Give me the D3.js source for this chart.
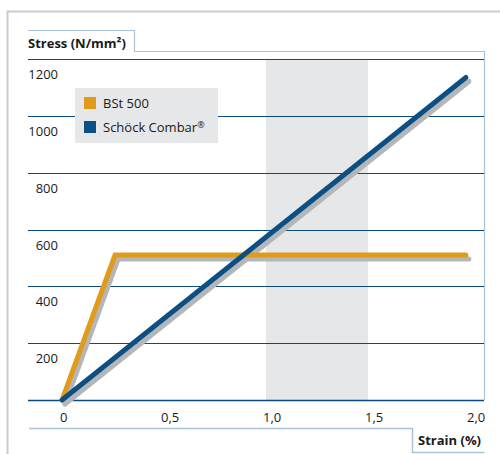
<!DOCTYPE html>
<html>
<head>
<meta charset="utf-8">
<script src="https://cdn.jsdelivr.net/npm/d3@7"></script>
<style>
  body { margin: 0; background: #fff; }
  text { font-family: "Open Sans", "Noto Sans", sans-serif; fill: #1a1a1a; }
</style>
</head>
<body>
<div id="chart"></div>
<script>
// values
var yTicks = [0, 200, 400, 600, 800, 1000, 1200];
var xTicks = [0, 0.5, 1.0, 1.5, 2.0];
var xTickLabels = ["0", "0,5", "1,0", "1,5", "2,0"];
var bandRange = [1.0, 1.5];

var seriesNames = ["BSt 500", "Schöck Combar"];
var bstStrain = [0, 0.26, 1.98];
var bstStress = [0, 510, 510];
var combarStrain = [0, 1.98];
var combarStress = [0, 1135];

var colors = ["#e09b1b", "#0c4f82"];

var W = 500, H = 454;
var margin = {top: 59, right: 16, bottom: 54, left: 28};

var svg = d3.select("#chart").append("svg")
    .attr("width", W)
    .attr("height", H);

var x = d3.scaleLinear().domain([0, 2]).range([62, 470]);
var y = d3.scaleLinear().domain([0, 1200]).range([H - margin.bottom, margin.top]);

var left = margin.left, right = W - margin.right;

// outer grey frame
svg.append("path")
    .attr("d", "M7.5," + H + "V11.5H" + W)
    .attr("fill", "none")
    .attr("stroke", "#cccccc")
    .attr("stroke-width", 2);

// shaded band
svg.append("rect")
    .attr("x", x(bandRange[0]))
    .attr("width", x(bandRange[1]) - x(bandRange[0]))
    .attr("y", y(1200))
    .attr("height", y(0) - y(1200))
    .attr("fill", "#e6e7e8");

// title tab and frame (light blue)
svg.append("path")
    .attr("d", "M" + left + ",30.5H134.5V51.5H" + (right + 0.5) + "V" + y(0))
    .attr("fill", "none")
    .attr("stroke", "#a9c3da")
    .attr("stroke-width", 1.2);

svg.append("path")
    .attr("d", "M" + (left + 1) + ",428.5H412.5V452.5H" + (right + 0.5))
    .attr("fill", "none")
    .attr("stroke", "#a9c3da")
    .attr("stroke-width", 1.5);

// gridlines
svg.selectAll("line.grid")
    .data(yTicks)
    .enter().append("line")
    .attr("class", "grid")
    .attr("x1", left)
    .attr("x2", right)
    .attr("y1", function(d) { return Math.round(y(d)) + 0.5; })
    .attr("y2", function(d) { return Math.round(y(d)) + 0.5; })
    .attr("stroke", "#0b4a80")
    .attr("stroke-width", function(d) { return d === 0 ? 1.5 : 1; });

// y labels, sitting under their gridline
svg.selectAll("text.ylab")
    .data(yTicks.slice(1))
    .enter().append("text")
    .attr("class", "ylab")
    .attr("x", 58)
    .attr("y", function(d) { return y(d) + 20; })
    .attr("text-anchor", "end")
    .style("font-size", "13px")
    .text(function(d) { return d; });

// x labels
svg.selectAll("text.xlab")
    .data(xTicks)
    .enter().append("text")
    .attr("class", "xlab")
    .attr("x", function(d, i) { return i === 0 ? x(d) - 2 : x(d) - 3; })
    .attr("y", 422)
    .style("font-size", "13px")
    .text(function(d, i) { return xTickLabels[i]; });

// axis titles
svg.append("text")
    .attr("x", 28)
    .attr("y", 48)
    .style("font-size", "13px")
    .style("font-weight", "bold")
    .text("Stress (N/mm²)");

svg.append("text")
    .attr("x", 481)
    .attr("y", 445)
    .attr("text-anchor", "end")
    .style("font-size", "13px")
    .style("font-weight", "bold")
    .text("Strain (%)");

// lines
var line = d3.line()
    .x(function(d) { return x(d[0]); })
    .y(function(d) { return y(d[1]); });

var series = [
    d3.zip(bstStrain, bstStress),
    d3.zip(combarStrain, combarStress)
];

var g = svg.append("g");

series.forEach(function(s, i) {
    g.append("path")
        .datum(s)
        .attr("d", line)
        .attr("transform", "translate(3,4)")
        .attr("fill", "none")
        .attr("stroke", "#b5b6b8")
        .attr("stroke-width", 5)
        .attr("stroke-linecap", "round");
});
series.forEach(function(s, i) {
    g.append("path")
        .datum(s)
        .attr("d", line)
        .attr("fill", "none")
        .attr("stroke", colors[i])
        .attr("stroke-width", 5)
        .attr("stroke-linejoin", "miter")
        .attr("stroke-linecap", "round");
});

// legend
var legend = svg.append("g");
legend.append("rect")
    .attr("x", 75)
    .attr("y", 88)
    .attr("width", 143)
    .attr("height", 55)
    .attr("fill", "#e6e7e8");

legend.selectAll("rect.sw")
    .data(seriesNames)
    .enter().append("rect")
    .attr("class", "sw")
    .attr("x", 84)
    .attr("y", function(d, i) { return 97 + i * 24; })
    .attr("width", 12)
    .attr("height", 12)
    .attr("fill", function(d, i) { return colors[i]; });

var lg = legend.selectAll("text.lg")
    .data(seriesNames)
    .enter().append("text")
    .attr("class", "lg")
    .attr("x", 103)
    .attr("y", function(d, i) { return 108 + i * 24; })
    .style("font-size", "13px")
    .text(function(d) { return d; });

// small raised registered mark after Combar
lg.filter(function(d, i) { return i === 1; })
    .append("tspan")
    .attr("dy", -4)
    .style("font-size", "9px")
    .text("®");
</script>
</body>
</html>
